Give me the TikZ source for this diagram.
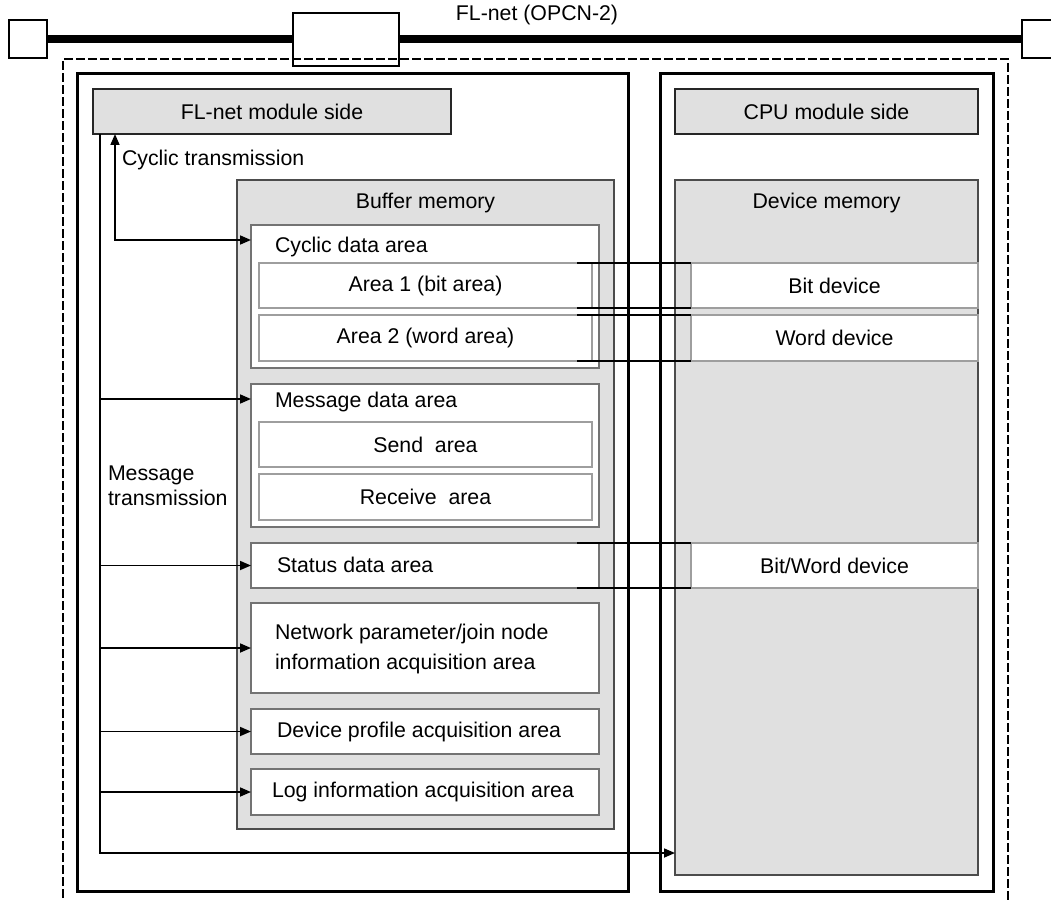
\documentclass[tikz,border=0pt]{standalone}
\usepackage{fontspec}
\setmainfont{Liberation Sans}
\usetikzlibrary{arrows.meta}
\definecolor{gfill}{HTML}{E0E0E0}
\newcommand\rbox[7]{\node[#1,anchor=north west,minimum width={(#5-#3)*1pt},minimum height={(#6-#4)*1pt}] (#2) at (#3,#4) {#7};}
\begin{document}
\begin{tikzpicture}[x=1pt,y=-1pt,
  every node/.style={inner sep=0pt,outer sep=0pt,font=\fontsize{21.3}{25}\selectfont},
  base/.style={rectangle},
  outerbox/.style={base,draw=black,line width=3pt},
  hdr/.style={base,draw=black!85,line width=1.8pt,fill=gfill},
  membox/.style={base,draw=black!70,line width=1.5pt,fill=gfill},
  areabox/.style={base,draw=black!55,line width=1.2pt,fill=white},
  subbox/.style={base,draw=black!38,line width=1.1pt,fill=white},
  netsq/.style={base,draw=black,line width=1.6pt,fill=white},
  lbl/.style={anchor=west},
  tip/.tip={Triangle[length=11pt,width=9pt]},
  arr/.style={line width=1.7pt,-tip},
  link/.style={line width=1.2pt,black}]
\useasboundingbox (0,0) rectangle (1051,901);
% network
\rbox{netsq}{sqL}{9}{20}{47}{58}{}
\rbox{netsq}{sqR}{1022}{20}{1080}{58}{}
\draw[line width=8.5pt] (sqL.east) -- (sqR.west);
\rbox{netsq}{sqM}{293}{13}{399}{66}{}
\node (net) at (537,15) {FL-net (OPCN-2)};
\draw[line width=1.7pt,dash pattern=on 9pt off 3pt] (63,910) -- (63,59) -- (1008,59) -- (1008,910);
% outer boxes
\rbox{outerbox}{Lout}{77}{74}{628}{891}{}
\rbox{outerbox}{Rout}{660}{74}{993}{891}{}
\rbox{hdr}{hdrL}{93}{89}{451}{134}{FL-net module side}
\rbox{hdr}{hdrR}{675}{89}{978}{134}{CPU module side}
% memories
\rbox{membox}{buf}{237}{180}{614}{829}{}
\node (buft) at (425.5,203) {Buffer memory};
\rbox{membox}{dev}{675}{180}{978}{875}{}
\node (devt) at (826.5,203) {Device memory};
% cyclic
\rbox{areabox}{cyc}{251}{225}{599}{368}{}
\node[lbl] (cyct) at (275,247) {Cyclic data area};
\rbox{subbox}{a1}{259}{263}{592}{308}{Area 1 (bit area)}
\rbox{subbox}{a2}{259}{315}{592}{361}{Area 2 (word area)}
\rbox{subbox}{bitd}{691}{263}{978}{308}{Bit device}
\rbox{subbox}{wordd}{691}{315}{978}{361}{Word device}
% message
\rbox{areabox}{msg}{251}{384}{599}{527}{}
\node[lbl] (msgt) at (275,402) {Message data area};
\rbox{subbox}{send}{259}{422}{592}{467}{Send\ \ area}
\rbox{subbox}{recv}{259}{474}{592}{520}{Receive\ \ area}
% other areas
\rbox{areabox}{stat}{251}{543}{599}{588}{}
\node[lbl] (statt) at (277,565) {Status data area};
\rbox{subbox}{bwd}{691}{543}{978}{588}{Bit/Word device}
\rbox{areabox}{netp}{251}{603}{599}{693}{}
\node[lbl,align=left] (netpt) at (275,649) {Network parameter/join node\\[5pt]information acquisition area};
\rbox{areabox}{prof}{251}{709}{599}{754}{}
\node[lbl] (proft) at (277,732) {Device profile acquisition area};
\rbox{areabox}{logb}{251}{769}{599}{815}{}
\node[lbl] (logt) at (272,792) {Log information acquisition area};
% links cyclic/status to devices
\draw[link] ([xshift=-15pt]a1.north east) -- (bitd.north west);
\draw[link] ([xshift=-15pt]a1.south east) -- (bitd.south west);
\draw[link] ([xshift=-15pt]a2.north east) -- (wordd.north west);
\draw[link] ([xshift=-15pt]a2.south east) -- (wordd.south west);
\draw[link] ([xshift=-22pt]stat.north east) -- (bwd.north west);
\draw[link] ([xshift=-22pt]stat.south east) -- (bwd.south west);
% labels
\node[lbl] (cyctr) at (122,160) {Cyclic transmission};
\node[lbl,align=left] (msgtr) at (108,486) {Message\\transmission};
% cyclic transmission arrow
\coordinate (cycin) at ([yshift=-15pt]cyc.north west);
\draw[line width=1.7pt,tip-tip] ([xshift=22pt]hdrL.south west) |- (cycin);
% message transmission trunk
\coordinate (trunk) at ([xshift=7pt]hdrL.south west);
\coordinate (devin) at ([yshift=22pt]dev.south west);
\draw[arr] (trunk) |- (devin);
\coordinate (msgin) at ([yshift=-15pt]msg.north west);
\draw[arr] (trunk |- msgin) -- (msgin);
\draw[arr] (trunk |- stat.west) -- (stat.west);
\draw[arr] (trunk |- netp.west) -- (netp.west);
\draw[arr] (trunk |- prof.west) -- (prof.west);
\draw[arr] (trunk |- logb.west) -- (logb.west);
\end{tikzpicture}
\end{document}
